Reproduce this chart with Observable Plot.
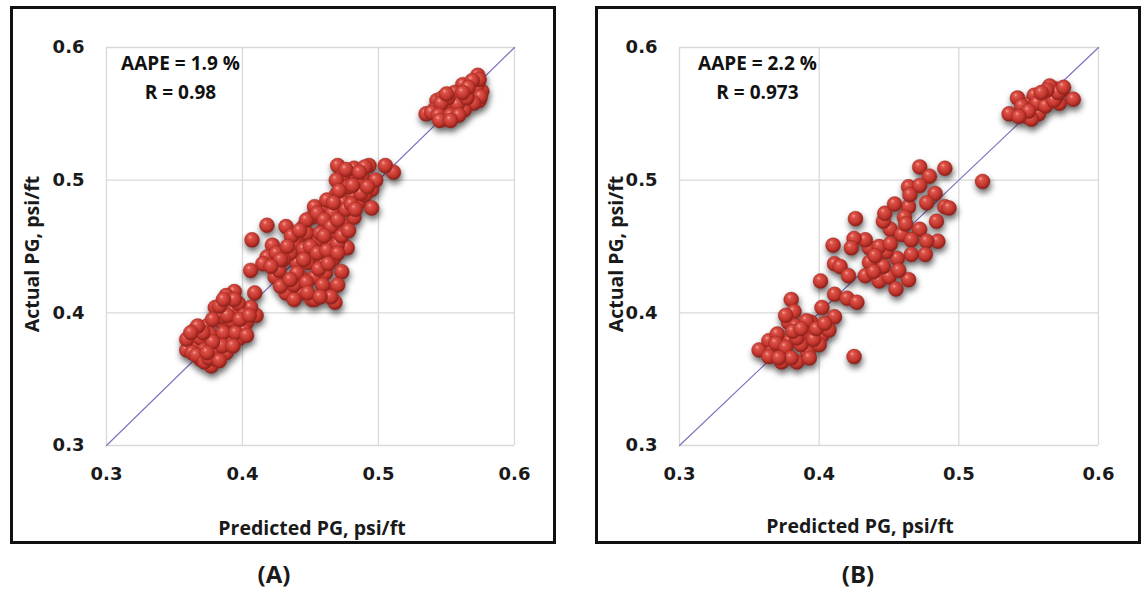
<!DOCTYPE html>
<html><head><meta charset="utf-8">
<script src="https://cdn.jsdelivr.net/npm/d3@7"></script>
<script src="https://cdn.jsdelivr.net/npm/@observablehq/plot@0.6"></script>
<style>
body{margin:0;background:#fff;}
#root{position:relative;width:1144px;height:589px;overflow:hidden;background:#fff;}
.box{position:absolute;border:3px solid #111;box-sizing:border-box;}
.t{position:absolute;font-family:"Open Sans",sans-serif;font-weight:700;color:#1a1a1a;white-space:nowrap;}
</style></head>
<body><div id="root"></div>
<script>
// ---- data ----
const ticks = [0.3, 0.4, 0.5, 0.6];
const xTitle = "Predicted PG, psi/ft";
const yTitle = "Actual PG, psi/ft";
const panelLabels = ["(A)", "(B)"];
const statsA = ["AAPE = 1.9 %", "R = 0.98"];
const statsB = ["AAPE = 2.2 %", "R = 0.973"];

const predictedA = [
0.573,0.535,0.543,0.549,0.559,0.564,0.569,0.576,0.574,0.564,0.553,0.555,0.547,0.545,0.560,0.567,0.571,0.552,0.548,0.557,0.562,0.573,0.566,0.541,0.550,
0.556,0.561,0.568,0.572,0.575,0.570,0.563,0.558,0.551,0.546,0.539,0.544,0.553,0.559,0.565,0.550,0.574,0.569,0.566,0.562,0.545,0.553,
0.511,0.505,0.470,0.493,0.495,0.495,0.418,0.407,0.406,0.409,0.394,0.422,0.418,0.424,0.432,0.444,0.451,0.460,0.468,0.473,0.477,0.432,0.445,0.459,0.469,0.482,0.478,
0.440,0.451,0.453,0.448,0.440,0.459,0.464,0.469,0.474,0.469,0.482,0.485,0.474,0.461,0.451,0.453,0.438,0.427,0.443,0.453,0.461,0.459,0.453,0.438,0.438,0.470,0.467,
0.490,0.488,0.474,0.482,0.490,0.469,0.498,0.435,0.445,0.456,0.430,0.466,0.478,0.485,0.462,0.447,0.436,0.425,0.415,0.428,0.465,
0.447,0.455,0.460,0.465,0.470,0.476,0.480,0.487,0.492,0.457,0.450,0.445,0.455,0.462,0.470,0.473,0.440,0.447,0.456,0.463,0.433,0.428,0.421,0.435,0.448,0.457,0.470,0.478,0.483,0.471,0.476,0.486,0.481,0.467,0.460,0.442,
0.359,0.361,0.369,0.377,0.380,0.367,0.365,0.374,0.382,0.390,0.385,0.380,0.393,0.396,0.403,0.410,0.406,0.401,0.397,0.388,0.394,0.359,0.380,0.388,0.369,0.401,0.372,0.376,0.386,0.392,0.398,0.370,0.384,
0.363,0.366,0.372,0.375,0.383,0.385,0.378,0.371,0.367,0.362,0.378,0.389,0.395,0.393,0.403,0.383,0.386,0.398,0.405,0.374
];
const actualA = [
0.579,0.550,0.560,0.551,0.565,0.568,0.571,0.567,0.560,0.557,0.554,0.561,0.562,0.555,0.560,0.563,0.566,0.558,0.548,0.552,0.572,0.573,0.559,0.553,0.546,
0.566,0.563,0.568,0.569,0.563,0.558,0.553,0.557,0.562,0.558,0.551,0.549,0.549,0.549,0.562,0.565,0.576,0.575,0.570,0.566,0.545,0.545,
0.506,0.511,0.511,0.511,0.493,0.479,0.466,0.455,0.432,0.415,0.416,0.451,0.442,0.427,0.415,0.415,0.410,0.418,0.408,0.431,0.449,0.465,0.465,0.479,0.489,0.488,0.503,
0.455,0.458,0.444,0.438,0.438,0.438,0.452,0.461,0.466,0.472,0.472,0.483,0.483,0.466,0.472,0.480,0.452,0.432,0.427,0.427,0.430,0.421,0.410,0.410,0.421,0.421,0.441,
0.489,0.503,0.504,0.509,0.510,0.500,0.500,0.445,0.448,0.455,0.440,0.475,0.495,0.497,0.485,0.460,0.458,0.445,0.437,0.420,0.412,
0.470,0.475,0.470,0.465,0.470,0.478,0.482,0.490,0.495,0.460,0.450,0.440,0.445,0.447,0.452,0.458,0.430,0.423,0.433,0.437,0.450,0.440,0.435,0.425,0.415,0.412,0.445,0.462,0.478,0.492,0.508,0.506,0.496,0.483,0.458,0.462,
0.372,0.381,0.365,0.360,0.370,0.376,0.387,0.390,0.381,0.379,0.393,0.404,0.401,0.390,0.393,0.398,0.404,0.387,0.407,0.413,0.410,0.380,0.365,0.370,0.381,0.398,0.372,0.384,0.385,0.394,0.381,0.366,0.397,
0.370,0.368,0.363,0.366,0.364,0.375,0.378,0.385,0.390,0.385,0.395,0.398,0.385,0.375,0.383,0.405,0.410,0.395,0.398,0.370
];

const predictedB = [
0.542,0.536,0.549,0.555,0.561,0.569,0.574,0.582,0.572,0.564,0.558,0.551,0.546,0.567,0.560,0.554,0.565,0.570,0.549,0.557,0.552,
0.545,0.556,0.562,0.568,0.571,0.563,0.559,0.550,0.543,0.575,
0.517,0.490,0.472,0.479,0.464,0.472,0.483,0.477,0.490,0.493,0.484,0.464,0.461,0.472,0.451,0.446,0.447,0.459,0.466,0.485,0.477,0.476,0.466,0.456,0.448,0.436,0.436,
0.433,0.425,0.423,0.410,0.411,0.415,0.421,0.433,0.443,0.450,0.455,0.464,0.457,0.446,0.439,0.426,0.401,0.411,0.420,0.427,0.425,0.465,0.454,0.462,0.443,0.451,0.440,
0.357,0.364,0.373,0.384,0.380,0.382,0.378,0.383,0.379,0.392,0.402,0.411,0.402,0.394,0.389,0.366,0.373,0.387,0.400,0.407,0.370,0.364,0.376,0.384,0.391,
0.369,0.376,0.381,0.387,0.396,0.398,0.393,0.380,0.371,0.404,0.376
];
const actualB = [
0.562,0.550,0.548,0.554,0.562,0.569,0.568,0.561,0.558,0.565,0.560,0.558,0.551,0.567,0.555,0.564,0.571,0.563,0.554,0.550,0.546,
0.556,0.558,0.556,0.560,0.566,0.568,0.566,0.552,0.548,0.570,
0.499,0.509,0.510,0.503,0.495,0.496,0.490,0.483,0.480,0.479,0.469,0.480,0.472,0.463,0.463,0.469,0.475,0.459,0.455,0.454,0.454,0.444,0.444,0.441,0.446,0.449,0.438,
0.455,0.456,0.449,0.451,0.437,0.435,0.428,0.428,0.424,0.427,0.418,0.425,0.432,0.435,0.431,0.471,0.424,0.414,0.411,0.408,0.367,0.489,0.482,0.467,0.450,0.452,0.443,
0.372,0.379,0.363,0.363,0.410,0.401,0.393,0.390,0.379,0.370,0.383,0.397,0.404,0.393,0.384,0.370,0.373,0.376,0.376,0.387,0.384,0.367,0.369,0.381,0.394,
0.377,0.374,0.386,0.388,0.380,0.388,0.366,0.366,0.366,0.392,0.398
];

// ---- drawing ----
const root = document.getElementById("root");
function div(cls, css, text){ const d=document.createElement("div"); d.className=cls; Object.assign(d.style,css); if(text!=null) d.textContent=text; root.appendChild(d); return d; }

function panel(id, px, py, stats, g){
  const pts = px.map((x,i)=>({x, y: py[i]}));
  const svg = Plot.plot({
    width: g.w, height: 589,
    marginLeft: g.ml, marginRight: g.mr, marginTop: 47, marginBottom: 144,
    style: {fontFamily:"DejaVu Sans", fontSize:"18px", fontWeight:"bold", color:"#1a1a1a", background:"transparent", overflow:"visible"},
    x: {domain:[0.3,0.6], ticks, tickFormat: d3.format(".1f"), tickSize:0, tickPadding:22, label:null},
    y: {domain:[0.3,0.6], ticks, tickFormat: d3.format(".1f"), tickSize:0, tickPadding:22, label:null},
    marks: [
      Plot.gridX(ticks, {stroke:"#d9d9d9", strokeOpacity:1, strokeWidth:1.3}),
      Plot.gridY(ticks, {stroke:"#d9d9d9", strokeOpacity:1, strokeWidth:1.3}),
      Plot.line([[0.3,0.3],[0.6,0.6]], {stroke:"#8470c0", strokeWidth:1.2}),
      Plot.dot(pts, {x:"x", y:"y", r:7.5, fill:`url(#ball${id})`, stroke:"#9a2720", strokeWidth:0.4}),
      Plot.text([stats[0]], {x:()=>g.tx, y:()=>0.5875, text:d=>d, fontFamily:"Open Sans", fontSize:19, fontWeight:"bold", fill:"#111"}),
      Plot.text([stats[1]], {x:()=>g.tx, y:()=>0.5655, text:d=>d, fontFamily:"Open Sans", fontSize:19, fontWeight:"bold", fill:"#111"})
    ]
  });
  const s = d3.select(svg);
  s.insert("defs", ":first-child").html(
    `<radialGradient id="ball${id}" cx="45%" cy="42%" r="62%" fx="36%" fy="30%">
       <stop offset="0%" stop-color="#f4a199"/>
       <stop offset="22%" stop-color="#dd5349"/>
       <stop offset="65%" stop-color="#c2362d"/>
       <stop offset="100%" stop-color="#7d1a14"/>
     </radialGradient>`);
  s.selectAll('g[aria-label="dot"]').style("filter","drop-shadow(1px 4px 3px rgba(0,0,0,0.6))");
  svg.style.position = "absolute";
  svg.style.left = g.left + "px";
  svg.style.top = "0px";
  root.appendChild(svg);
}

div("box", {left:"10px", top:"6px", width:"546px", height:"538px"});
div("box", {left:"595px", top:"6px", width:"546px", height:"538px"});

panel("A", predictedA, actualA, statsA, {left:0, w:570, ml:106, mr:56, tx:0.3544});
panel("B", predictedB, actualB, statsB, {left:575, w:569, ml:104, mr:46, tx:0.3558});

// axis titles
div("t", {left:"312px", top:"527px", fontSize:"19.5px", transform:"translate(-50%,-50%)"}, xTitle);
div("t", {left:"860px", top:"525px", fontSize:"19.5px", transform:"translate(-50%,-50%)"}, xTitle);
div("t", {left:"31px", top:"254px", fontSize:"19.5px", transform:"translate(-50%,-50%) rotate(-90deg)"}, yTitle);
div("t", {left:"615px", top:"254px", fontSize:"19.5px", transform:"translate(-50%,-50%) rotate(-90deg)"}, yTitle);
// panel labels
div("t", {left:"274px", top:"573px", fontSize:"24px", transform:"translate(-50%,-50%)"}, panelLabels[0]);
div("t", {left:"858px", top:"573px", fontSize:"24px", transform:"translate(-50%,-50%)"}, panelLabels[1]);
</script>
</body></html>
